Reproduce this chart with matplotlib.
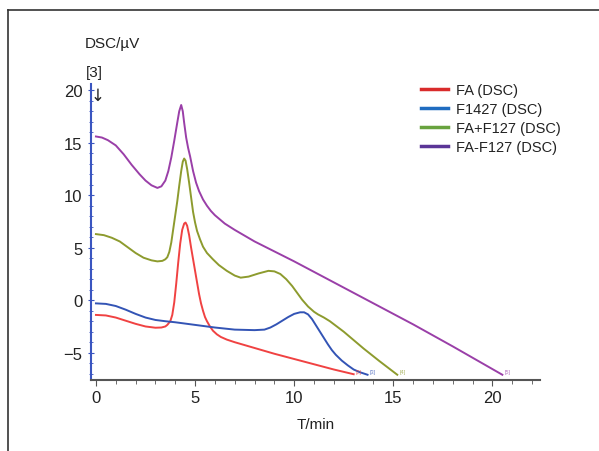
import matplotlib

matplotlib.use("Agg")
import matplotlib.pyplot as plt
from matplotlib.lines import Line2D
from matplotlib.ticker import MultipleLocator

plt.rcParams["font.family"] = ["Liberation Sans", "DejaVu Sans"]

# curves (time in min, signal in uV)
fa_t = [0, 0.5, 1, 1.5, 2, 2.5, 3, 3.3, 3.5, 3.6, 3.75, 3.85, 3.95, 4.05, 4.15, 4.25, 4.35,
        4.45, 4.52, 4.6, 4.7, 4.8, 4.9, 5.0, 5.1, 5.2, 5.3, 5.4, 5.5, 5.6, 5.75, 5.9, 6.1,
        6.3, 6.6, 7, 8, 9, 10, 11, 12, 13]
fa_y = [-1.4, -1.45, -1.65, -1.95, -2.25, -2.5, -2.62, -2.6, -2.5, -2.35, -2.0, -1.4, -0.2,
        1.6, 3.6, 5.4, 6.7, 7.3, 7.4, 7.1, 6.2, 5.0, 3.9, 2.8, 1.7, 0.6, -0.3, -1.0, -1.6,
        -2.0, -2.5, -2.9, -3.25, -3.5, -3.75, -4.0, -4.55, -5.1, -5.6, -6.1, -6.6, -7.05]

f1427_t = [0, 0.5, 1, 1.5, 2, 2.5, 3, 3.5, 4, 5, 6, 7, 8, 8.5, 8.8, 9.1, 9.4, 9.7, 10.0,
           10.3, 10.5, 10.7, 10.9, 11.1, 11.3, 11.5, 11.7, 11.9, 12.1, 12.4, 12.7, 13.0,
           13.3, 13.7]
f1427_y = [-0.3, -0.35, -0.55, -0.9, -1.3, -1.65, -1.88, -2.0, -2.1, -2.35, -2.6, -2.8,
           -2.85, -2.8, -2.6, -2.3, -1.95, -1.6, -1.3, -1.15, -1.15, -1.35, -1.8, -2.4,
           -3.0, -3.6, -4.2, -4.75, -5.2, -5.75, -6.2, -6.6, -6.85, -7.1]

fa_f127_t = [0, 0.4, 0.8, 1.2, 1.6, 2.0, 2.4, 2.8, 3.1, 3.35, 3.5, 3.6, 3.7, 3.8, 3.9, 4.0,
             4.1, 4.2, 4.3, 4.38, 4.45, 4.52, 4.6, 4.7, 4.8, 4.9, 5.0, 5.1, 5.25, 5.4, 5.6,
             5.9, 6.2, 6.6, 7.0, 7.3, 7.7, 8.2, 8.7, 9.0, 9.3, 9.6, 9.9, 10.15, 10.4, 10.7,
             11.0, 11.2, 11.5, 11.8, 12.5, 13.5, 14.3, 15.2]
fa_f127_y = [6.3, 6.2, 5.95, 5.6, 5.05, 4.5, 4.05, 3.8, 3.7, 3.75, 3.9, 4.1, 4.6, 5.5, 6.8,
             8.1, 9.4, 10.9, 12.3, 13.2, 13.5, 13.3, 12.5, 11.2, 9.8, 8.4, 7.4, 6.6, 5.8,
             5.1, 4.5, 3.9, 3.35, 2.8, 2.35, 2.15, 2.25, 2.55, 2.8, 2.75, 2.5, 2.0, 1.35,
             0.7, 0.05, -0.6, -1.1, -1.35, -1.65, -2.0, -3.0, -4.6, -5.8, -7.1]

fa_mix_t = [0, 0.3, 0.6, 1.0, 1.4, 1.8, 2.2, 2.5, 2.8, 3.1, 3.3, 3.5, 3.65, 3.8, 3.95, 4.1,
            4.2, 4.3, 4.38, 4.45, 4.55, 4.65, 4.75, 4.9, 5.05, 5.2, 5.4, 5.6, 5.8, 6.0, 6.5,
            7.0, 8.0, 9, 10, 12, 14, 16, 18, 20.5]
fa_mix_y = [15.6, 15.5, 15.25, 14.75, 13.9, 12.9, 12.0, 11.4, 10.95, 10.7, 10.85, 11.4,
            12.3, 13.6, 15.2, 16.9, 18.0, 18.6, 18.0, 16.9, 15.5, 14.5, 13.7, 12.3, 11.2,
            10.4, 9.6, 9.0, 8.5, 8.1, 7.3, 6.7, 5.6, 4.65, 3.7, 1.7, -0.3, -2.3, -4.4, -7.1]

names = ["FA (DSC)", "F1427 (DSC)", "FA+F127 (DSC)", "FA-F127 (DSC)"]
end_tags = ["[2]", "[3]", "[4]", "[5]"]
series = [(fa_t, fa_y), (f1427_t, f1427_y), (fa_f127_t, fa_f127_y), (fa_mix_t, fa_mix_y)]
line_colors = ["#f04242", "#3354b5", "#8d9b2e", "#9a3fa8"]
legend_colors = ["#d92b2b", "#1f6cc0", "#68a33e", "#5b3597"]

fig = plt.figure(figsize=(5.99, 4.52), dpi=100)
ax = fig.add_axes([91 / 599, 1 - 381 / 452, (540 - 91) / 599, (381 - 85) / 452])

for (t, y), color, tag in zip(series, line_colors, end_tags):
    ax.plot(t, y, color=color, linewidth=1.4, solid_joinstyle="round")
    ax.text(t[-1] + 0.1, y[-1] + 0.05, tag, color=color, fontsize=4, alpha=0.7,
            ha="left", va="bottom")

ax.set_xlim(-0.25, 22.4)
ax.set_ylim(-7.6, 20.6)
ax.xaxis.set_minor_locator(MultipleLocator(1))
ax.yaxis.set_minor_locator(MultipleLocator(1))
ax.set_xticks([0, 5, 10, 15, 20])
ax.set_yticks([-5, 0, 5, 10, 15, 20])

for side in ("top", "right"):
    ax.spines[side].set_visible(False)
ax.spines["left"].set_color("#3a55c0")
ax.spines["left"].set_linewidth(1.5)
ax.spines["bottom"].set_color("#555555")
ax.spines["bottom"].set_linewidth(1.5)
ax.tick_params(axis="y", which="both", colors="#3a55c0", labelcolor="#222222",
               labelsize=12, direction="inout")
ax.tick_params(axis="y", which="major", length=5)
ax.tick_params(axis="y", which="minor", length=3)
ax.tick_params(axis="x", which="both", colors="#555555", labelcolor="#222222",
               labelsize=12, direction="out")
ax.tick_params(axis="x", which="major", length=4)
ax.tick_params(axis="x", which="minor", length=3)

ax.set_xlabel("T/min", fontsize=11, color="#222222", labelpad=8)
fig.text(112 / 599, 1 - 44 / 452, "DSC/\u00b5V", fontsize=11, color="#222222",
         ha="center", va="center")
fig.text(94 / 599, 1 - 73 / 452, "[3]", fontsize=11, color="#222222",
         ha="center", va="center")
fig.text(98 / 599, 1 - 96 / 452, "\u2193", fontsize=12, color="#222222",
         ha="center", va="center", family=["DejaVu Sans"])

handles = [Line2D([], [], color=c, linewidth=2.5) for c in legend_colors]
fig.legend(handles, names, loc="upper left", bbox_to_anchor=(408 / 599, 1 - 71 / 452),
           frameon=False, fontsize=10.5, handlelength=1.85, handletextpad=0.55,
           labelspacing=0.35, labelcolor="#222222")

# page frame visible on the left and top
fig.add_artist(Line2D([8 / 599, 8 / 599], [0, 1 - 11 / 452], transform=fig.transFigure,
                      color="#333333", linewidth=1.2))
fig.add_artist(Line2D([8 / 599, 1], [1 - 11 / 452, 1 - 11 / 452], transform=fig.transFigure,
                      color="#333333", linewidth=1.2))

fig.savefig("out.png", dpi=100)
